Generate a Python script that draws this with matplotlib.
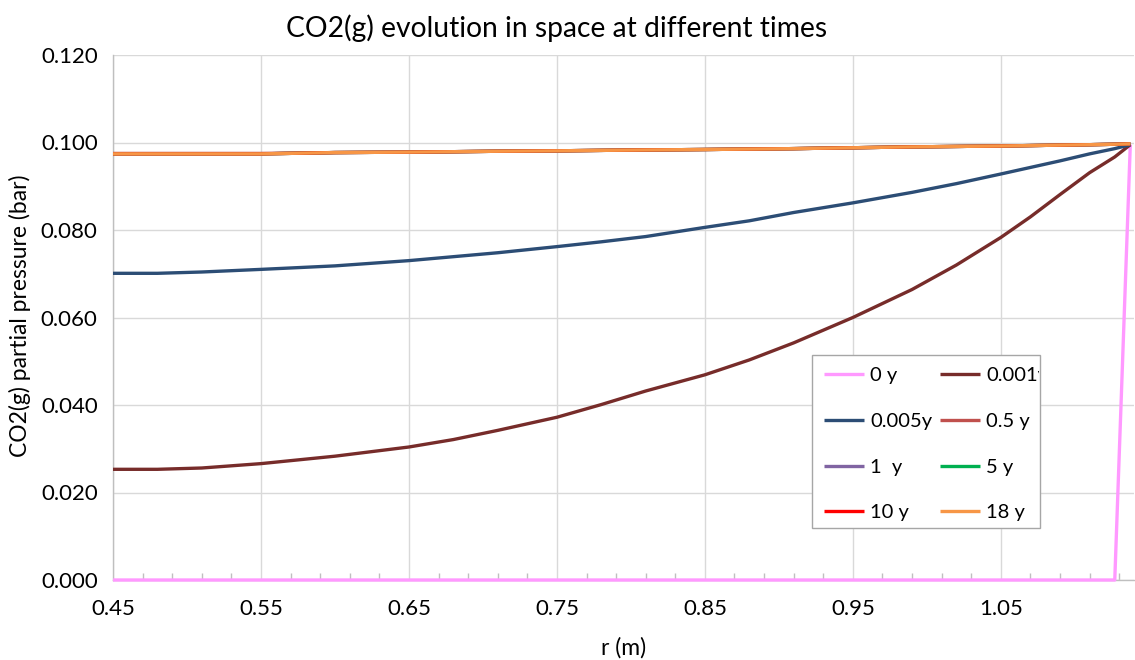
import matplotlib
matplotlib.use("Agg")
import matplotlib.pyplot as plt
from matplotlib.ticker import FixedLocator
from matplotlib.patches import Rectangle
from matplotlib.transforms import Bbox, TransformedBbox

plt.rcParams['font.family'] = ['Lato', 'DejaVu Sans']

# ---- data ----
r = [0.45, 0.48, 0.51, 0.55, 0.60, 0.65, 0.68, 0.71, 0.75, 0.78, 0.81, 0.85,
     0.88, 0.91, 0.95, 0.99, 1.02, 1.05, 1.07, 1.09, 1.11, 1.127, 1.1375]

p_0y = [0.0, 0.0, 0.0, 0.0, 0.0, 0.0, 0.0, 0.0, 0.0, 0.0, 0.0, 0.0,
        0.0, 0.0, 0.0, 0.0, 0.0, 0.0, 0.0, 0.0, 0.0, 0.0, 0.0995]
p_0001y = [0.0253, 0.0253, 0.0256, 0.0266, 0.0283, 0.0304, 0.0321, 0.0342, 0.0372,
           0.0401, 0.0432, 0.0469, 0.0503, 0.0542, 0.0600, 0.0664, 0.0720, 0.0783,
           0.0830, 0.0881, 0.0931, 0.0967, 0.0995]
p_0005y = [0.0701, 0.0701, 0.0704, 0.0710, 0.0718, 0.0730, 0.0739, 0.0748, 0.0762,
           0.0773, 0.0785, 0.0806, 0.0821, 0.0840, 0.0862, 0.0886, 0.0906, 0.0928,
           0.0943, 0.0958, 0.0974, 0.0986, 0.0995]
p_05y = [0.0975, 0.0975, 0.0975, 0.0975, 0.0977, 0.0978, 0.0979, 0.0980, 0.0981,
         0.0982, 0.0983, 0.0984, 0.0985, 0.0986, 0.0988, 0.0990, 0.0991, 0.0992,
         0.0993, 0.0994, 0.0995, 0.0996, 0.0997]
p_1y = [0.0974, 0.0974, 0.0974, 0.0974, 0.0977, 0.0978, 0.0979, 0.0980, 0.0981,
        0.0982, 0.0983, 0.0984, 0.0985, 0.0986, 0.0988, 0.0990, 0.0991, 0.0992,
        0.0993, 0.0994, 0.0995, 0.0996, 0.0997]
p_5y = [0.0974, 0.0974, 0.0974, 0.0974, 0.0977, 0.0978, 0.0979, 0.0980, 0.0981,
        0.0982, 0.0983, 0.0984, 0.0985, 0.0986, 0.0988, 0.0990, 0.0991, 0.0992,
        0.0993, 0.0994, 0.0995, 0.0996, 0.0997]
p_10y = [0.0974, 0.0974, 0.0974, 0.0974, 0.0977, 0.0978, 0.0979, 0.0980, 0.0981,
         0.0982, 0.0983, 0.0984, 0.0985, 0.0986, 0.0988, 0.0990, 0.0991, 0.0992,
         0.0993, 0.0994, 0.0995, 0.0996, 0.0997]
p_18y = [0.0974, 0.0974, 0.0974, 0.0974, 0.0977, 0.0978, 0.0979, 0.0980, 0.0981,
         0.0982, 0.0983, 0.0984, 0.0985, 0.0986, 0.0988, 0.0990, 0.0991, 0.0992,
         0.0993, 0.0994, 0.0995, 0.0996, 0.0997]

labels = ['0 y', '0.001y', '0.005y', '0.5 y', '1  y', '5 y', '10 y', '18 y']
colors = ['#FF99FF', '#772C2A', '#2C4D75', '#C0504D', '#8064A2', '#00B050', '#FF0000', '#F79646']
series = [p_0y, p_0001y, p_0005y, p_05y, p_1y, p_5y, p_10y, p_18y]

x_ticks = [0.45, 0.55, 0.65, 0.75, 0.85, 0.95, 1.05]
y_ticks = [0.0, 0.02, 0.04, 0.06, 0.08, 0.10, 0.12]

# ---- figure ----
W, H = 1135, 660
fig = plt.figure(figsize=(W/100, H/100), dpi=100)
ax = fig.add_axes([113/W, 1-580/H, (1134-113)/W, (580-55)/H])

handles = []
for ys, lab, col in zip(series, labels, colors):
    h, = ax.plot(r, ys, color=col, lw=2.4, label=lab, solid_capstyle='butt',
                 clip_on=False, zorder=3)
    handles.append(h)

ax.set_xlim(0.45, 1.14)
ax.set_ylim(0, 0.12)
ax.xaxis.set_major_locator(FixedLocator(x_ticks))
ax.set_xticklabels([f"{v:.2f}" for v in x_ticks])
ax.yaxis.set_major_locator(FixedLocator(y_ticks))
ax.set_yticklabels([f"{v:.3f}" for v in y_ticks])
ax.xaxis.set_minor_locator(FixedLocator([0.45 + 0.02*i for i in range(1, 35)]))

ax.grid(True, which='major', color='#D9D9D9', lw=1.0, zorder=0)
ax.set_axisbelow(True)
ax.tick_params(axis='both', which='major', length=0, labelsize=16, colors='black')
ax.tick_params(axis='y', which='major', pad=11)
ax.tick_params(axis='x', which='major', pad=14)
ax.tick_params(axis='x', which='minor', direction='in', length=5, color='#BFBFBF', width=1)
ax.tick_params(axis='y', which='minor', length=0)

for s in ['top', 'right']:
    ax.spines[s].set_visible(False)
for s in ['left', 'bottom']:
    ax.spines[s].set_color('#BFBFBF')
    ax.spines[s].set_linewidth(1.0)

fig.text(557/W, 1-28/H, 'CO2(g) evolution in space at different times',
         ha='center', va='center', fontsize=20.3)
fig.text(624/W, 1-648/H, 'r (m)', ha='center', va='center', fontsize=16.5)
fig.text(20/W, 1-316/H, 'CO2(g) partial pressure (bar)', ha='center', va='center',
         rotation=90, fontsize=16.5)

# legend box (drawn separately so the text can be clipped like the reference)
lx0, ly0, lx1, ly1 = 812, 355, 1040, 528
box = Rectangle((lx0/W, 1-ly1/H), (lx1-lx0)/W, (ly1-ly0)/H, transform=fig.transFigure,
                facecolor='white', edgecolor='#A6A6A6', lw=1.0, zorder=4)
fig.add_artist(box)

# legend filled row-wise like the reference (matplotlib fills by column)
order = [0, 2, 4, 6, 1, 3, 5, 7]
leg = fig.legend(handles=[handles[i] for i in order], labels=[labels[i] for i in order],
                 ncol=2, loc='upper left',
                 bbox_to_anchor=(lx0/W, 1-ly0/H), fontsize=14.5,
                 frameon=False, handlelength=2.0, handletextpad=0.3, labelspacing=1.42,
                 columnspacing=0.35, borderpad=0.6, borderaxespad=0)
leg.set_zorder(5)
clip = TransformedBbox(Bbox([[lx0/W, 1-ly1/H], [(lx1-1)/W, 1-ly0/H]]), fig.transFigure)
for t in leg.get_texts():
    t.set_clip_box(clip)
    t.set_clip_on(True)

fig.savefig('out.png', dpi=100)
